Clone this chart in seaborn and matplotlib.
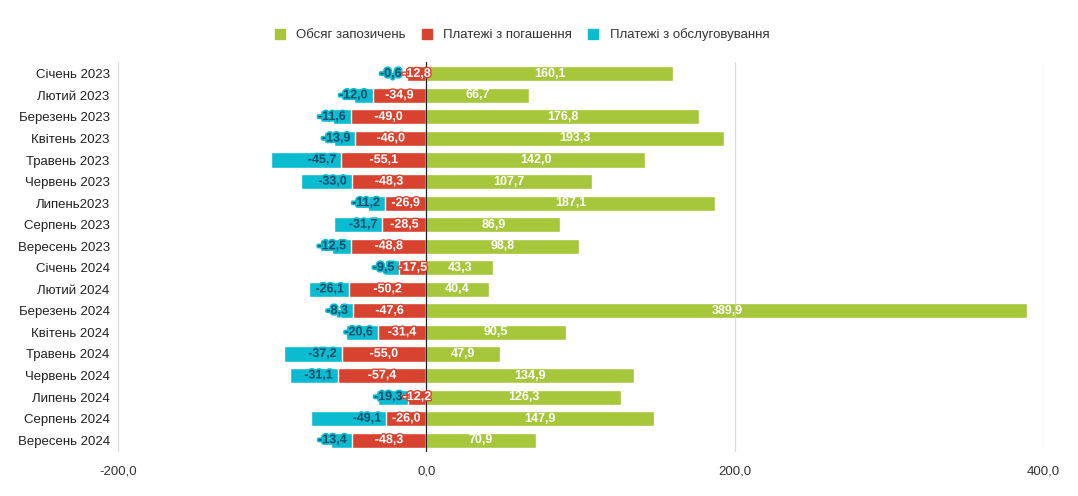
import matplotlib
matplotlib.use("Agg")
import matplotlib.pyplot as plt
import matplotlib.patheffects as pe
from matplotlib.patches import Patch
import seaborn as sns
import pandas as pd
import numpy as np

months = ["Січень 2023", "Лютий 2023", "Березень 2023", "Квітень 2023", "Травень 2023",
          "Червень 2023", "Липень2023", "Серпень 2023", "Вересень 2023", "Січень 2024",
          "Лютий 2024", "Березень 2024", "Квітень 2024", "Травень 2024", "Червень 2024",
          "Липень 2024", "Серпень 2024", "Вересень 2024"]
borrowing = [160.1, 66.7, 176.8, 193.3, 142.0, 107.7, 187.1, 86.9, 98.8, 43.3,
             40.4, 389.9, 90.5, 47.9, 134.9, 126.3, 147.9, 70.9]
repayment = [-12.8, -34.9, -49.0, -46.0, -55.1, -48.3, -26.9, -28.5, -48.8, -17.5,
             -50.2, -47.6, -31.4, -55.0, -57.4, -12.2, -26.0, -48.3]
servicing = [-0.6, -12.0, -11.6, -13.9, -45.7, -33.0, -11.2, -31.7, -12.5, -9.5,
             -26.1, -8.3, -20.6, -37.2, -31.1, -19.3, -49.1, -13.4]
series_names = ["Обсяг запозичень", "Платежі з погашення", "Платежі з обслуговування"]
xticks = [-200, 0, 200, 400]

GREEN = "#a6c73b"
RED = "#d84330"
CYAN = "#0bbcd0"
NAVY = "#0d4d6b"

sns.set_theme(style="white")
plt.rcParams["font.family"] = ["Liberation Sans", "DejaVu Sans"]

df = pd.DataFrame({"month": months, "borrowing": borrowing, "repayment": repayment,
                   "servicing": servicing})
df["serv_cum"] = df["repayment"] + df["servicing"]

fig = plt.figure(figsize=(10.78, 4.96), dpi=100)
ax = fig.add_axes([118 / 1078, 1 - 452 / 496, (1043 - 118) / 1078, (452 - 62) / 496])

w = 0.7
sns.barplot(data=df, y="month", x="serv_cum", color=CYAN, orient="h", width=w, ax=ax,
            saturation=1, order=months)
sns.barplot(data=df, y="month", x="repayment", color=RED, orient="h", width=w, ax=ax,
            saturation=1, order=months)
sns.barplot(data=df, y="month", x="borrowing", color=GREEN, orient="h", width=w, ax=ax,
            saturation=1, order=months)

ax.set_xlim(-200, 400)
ax.set_ylim(len(months) - 0.5 + 0.05, -0.5 - 0.05)
ax.set_xticks(xticks)
ax.set_xticklabels([f"{v:.1f}".replace(".", ",") for v in xticks], fontsize=9.5, color="#333333")
ax.tick_params(axis="x", length=0, pad=10)
ax.tick_params(axis="y", length=0, pad=6, labelsize=9.5, labelcolor="#222222")
ax.set_xlabel("")
ax.set_ylabel("")
for s in ax.spines.values():
    s.set_visible(False)
for v in xticks:
    if v == 0:
        ax.axvline(v, color="#222222", lw=0.9, zorder=5)
    else:
        ax.axvline(v, color="#cccccc", lw=0.9, alpha=0.7, zorder=4)

def fmt(v):
    return f"{v:.1f}".replace(".", ",")

for i in range(len(months)):
    ax.text(borrowing[i] / 2, i, fmt(borrowing[i]), ha="center", va="center",
            color="white", fontsize=9, fontweight="bold", zorder=6)
    ax.text(repayment[i] / 2, i, fmt(repayment[i]), ha="center", va="center",
            color="white", fontsize=9, fontweight="bold", zorder=7,
            path_effects=[pe.withStroke(linewidth=2, foreground=RED)])
    ax.annotate(fmt(servicing[i]), xy=(repayment[i], i), xytext=(-5, 0),
                textcoords="offset pixels", ha="right", va="center",
                color=NAVY, fontsize=9, fontweight="bold", zorder=6,
                path_effects=[pe.withStroke(linewidth=2.5, foreground=CYAN)])

handles = [Patch(color=c, label=n) for c, n in zip([GREEN, RED, CYAN], series_names)]
fig.legend(handles=handles, loc="center", bbox_to_anchor=(522 / 1078, 1 - 35 / 496),
           ncol=3, frameon=False, fontsize=9.5, handlelength=0.75, handleheight=0.75,
           columnspacing=1.25, handletextpad=0.85, labelcolor="#333333")

fig.savefig("out.png", dpi=100)
